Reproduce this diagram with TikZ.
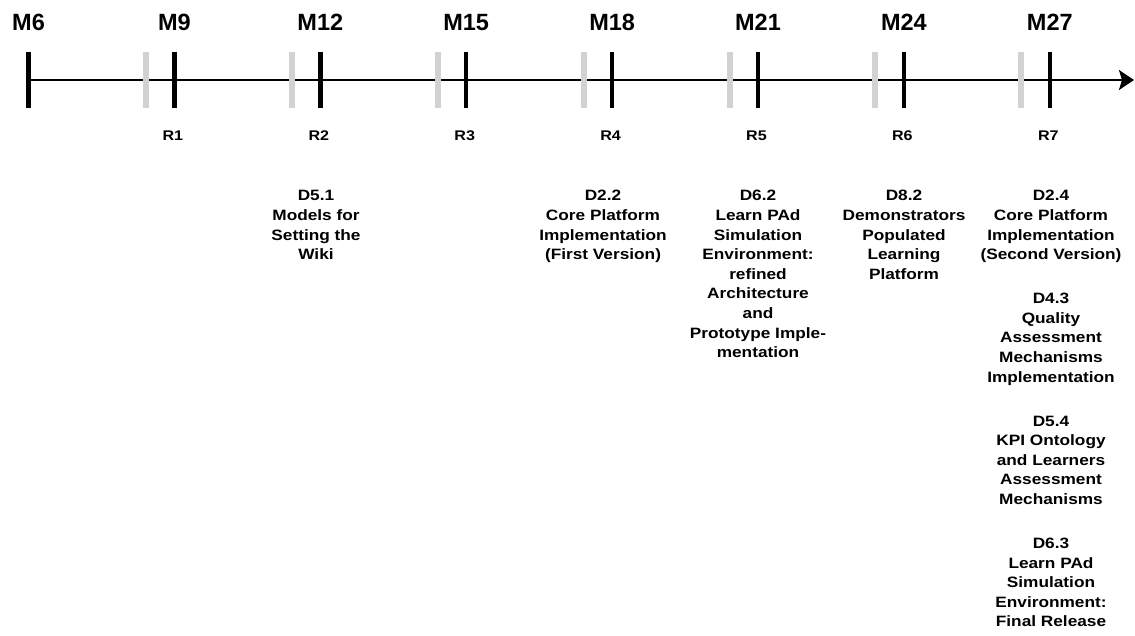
\documentclass[tikz,border=0pt]{standalone}
\usepackage{fontspec}
\setmainfont{Liberation Sans}
\newfontfamily\smallfont[FakeStretch=1.15]{Liberation Sans}
\usepackage{tikz}
\usetikzlibrary{arrows.meta,positioning}
\definecolor{lgray}{RGB}{210,210,210}
\tikzstyle{month} = [anchor=base, inner sep=0pt, font=\fontsize{23.5}{26}\selectfont\bfseries]
\tikzstyle{release} = [anchor=base, inner sep=0pt, font=\smallfont\fontsize{14}{17}\selectfont\bfseries]
\tikzstyle{deliv} = [anchor=north, inner sep=0pt, align=center,
  font=\smallfont\fontsize{15}{19.6}\selectfont\bfseries]
\tikzstyle{axis} = [draw, line width=2pt, color=black, -{Stealth[length=15pt,width=20pt,inset=3pt]}]
\tikzstyle{tick} = [draw, line width=4.5pt, color=black]
\tikzstyle{gtick} = [draw, line width=6pt, color=lgray]

\begin{document}
\begin{tikzpicture}[x=1pt,y=-1pt]
  \def\dx{145.9}
  \useasboundingbox (0,0) rectangle (1135,635);
  \coordinate (start) at (28.5,80);
  \coordinate (end) at (1134,80);
  \path [axis] (start) -- (end);

  % ticks: grey one just before each month
  \foreach \i in {1,...,7}
    \path [gtick] ({\i*\dx},52) -- ++(0,56);
  \foreach \i in {0,...,7}
    \path [tick] ({28.5+\i*\dx},52) -- ++(0,56);

  \foreach \i/\m in {0/6,1/9,2/12,3/15,4/18,5/21,6/24,7/27}
    \node [month] (m\m) at ({28.5+\i*\dx},30) {M\m};
  \foreach \i in {1,...,7}
    \node [release] (r\i) at ({27+\i*\dx},140) {R\i};

  \node [deliv] (d51) at (316,190.3) {D5.1\\Models for\\Setting the\\Wiki};
  \node [deliv] (d22) at (603,190.3) {D2.2\\Core Platform\\Implementation\\(First Version)};
  \node [deliv] (d62) at (758,190.3) {D6.2\\Learn PAd\\Simulation\\Environment:\\refined\\Architecture\\and\\Prototype Imple-\\mentation};
  \node [deliv] (d82) at (904,190.3) {D8.2\\Demonstrators\\Populated\\Learning\\Platform};

  \node [deliv] (d24) at (1051,190.3) {D2.4\\Core Platform\\Implementation\\(Second Version)};
  \node [deliv] (d43) at (1051,293.1) {D4.3\\Quality\\Assessment\\Mechanisms\\Implementation};
  \node [deliv] (d54) at (1051,415.5) {D5.4\\KPI Ontology\\and Learners\\Assessment\\Mechanisms};
  \node [deliv] (d63) at (1051,537.9) {D6.3\\Learn PAd\\Simulation\\Environment:\\Final Release};
\end{tikzpicture}
\end{document}
